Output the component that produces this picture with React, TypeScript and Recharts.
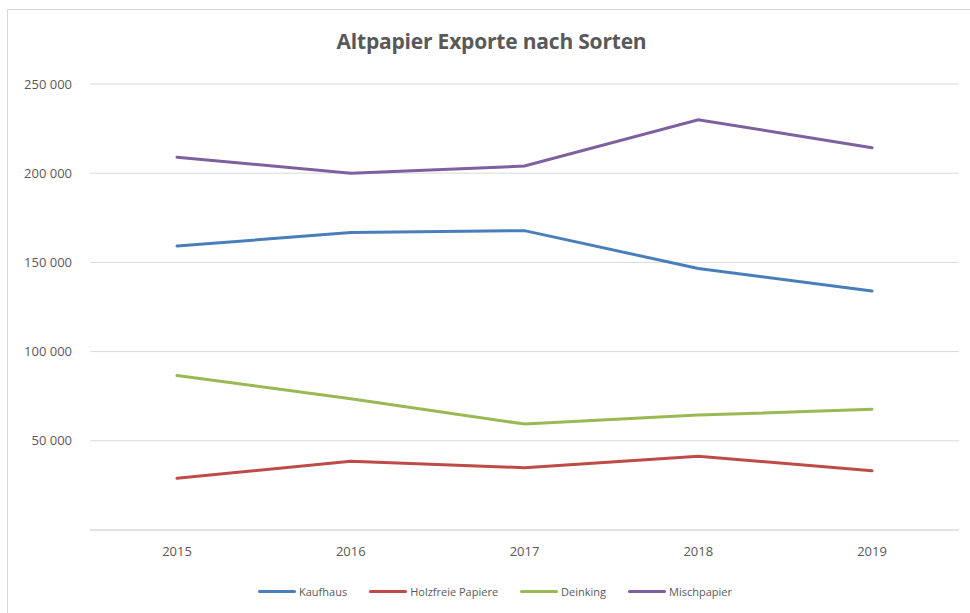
import { LineChart, Line, XAxis, YAxis, CartesianGrid } from "recharts";

const years = ["2015", "2016", "2017", "2018", "2019"];
const kaufhaus = [159200, 166700, 167800, 146600, 134000];
const holzfreie = [29000, 38600, 34900, 41400, 33200];
const deinking = [86600, 73600, 59400, 64400, 67700];
const mischpapier = [209000, 200000, 204000, 230000, 214300];
const yTicks = [0, 50000, 100000, 150000, 200000, 250000];

const series = [
  { key: "kaufhaus", name: "Kaufhaus", color: "#4a7ebb" },
  { key: "holzfreie", name: "Holzfreie Papiere", color: "#be4b48" },
  { key: "deinking", name: "Deinking", color: "#98b954" },
  { key: "mischpapier", name: "Mischpapier", color: "#7d60a0" },
];

const data = years.map((year, i) => ({
  year,
  kaufhaus: kaufhaus[i],
  holzfreie: holzfreie[i],
  deinking: deinking[i],
  mischpapier: mischpapier[i],
}));

const font = "'Open Sans', sans-serif";

function fmt(v: number) {
  if (v === 0) return "";
  return String(v).replace(/\B(?=(\d{3})+(?!\d))/g, " ");
}

export default function App() {
  return (
    <div
      style={{
        position: "fixed",
        left: 0,
        top: 0,
        width: 970,
        height: 613,
        overflow: "hidden",
        background: "#fff",
        fontFamily: font,
      }}
    >
      <div
        style={{
          position: "absolute",
          left: 7,
          top: 9,
          width: 990,
          height: 640,
          border: "1px solid #d9d9d9",
        }}
      />
      <div
        style={{
          position: "absolute",
          left: 0,
          width: 983,
          top: 27,
          textAlign: "center",
          fontSize: 21,
          fontWeight: 700,
          color: "#595959",
          letterSpacing: -0.2,
        }}
      >
        Altpapier Exporte nach Sorten
      </div>
      <div style={{ position: "absolute", left: 0, top: 0 }}>
        <LineChart
          width={970}
          height={613}
          data={data}
          margin={{ top: 84, right: 11, left: 0, bottom: 53 }}
        >
          <CartesianGrid vertical={false} stroke="#d9d9d9" strokeWidth={1} />
          <XAxis
            dataKey="year"
            height={30}
            padding={{ left: 87, right: 87 }}
            axisLine={{ stroke: "#d9d9d9" }}
            tickLine={false}
            tickMargin={11}
            tick={{ fill: "#595959", fontSize: 13, fontFamily: font }}
          />
          <YAxis
            width={90}
            domain={[0, 250000]}
            ticks={yTicks}
            interval={0}
            axisLine={false}
            tickLine={false}
            tickMargin={12}
            tickFormatter={fmt}
            tick={{ fill: "#595959", fontSize: 13, fontFamily: font }}
          />
          {series.map((s) => (
            <Line
              key={s.key}
              type="linear"
              dataKey={s.key}
              name={s.name}
              stroke={s.color}
              strokeWidth={3}
              strokeLinecap="round"
              dot={false}
              activeDot={false}
              isAnimationActive={false}
            />
          ))}
        </LineChart>
      </div>
      <div
        style={{
          position: "absolute",
          top: 584,
          left: 258,
          display: "flex",
          alignItems: "center",
          fontSize: 11,
          color: "#595959",
        }}
      >
        {series.map((s) => (
          <div
            key={s.key}
            style={{ display: "flex", alignItems: "center", marginRight: 22 }}
          >
            <span
              style={{
                display: "inline-block",
                width: 38,
                height: 3,
                borderRadius: 2,
                background: s.color,
                marginRight: 3,
              }}
            />
            <span>{s.name}</span>
          </div>
        ))}
      </div>
    </div>
  );
}
